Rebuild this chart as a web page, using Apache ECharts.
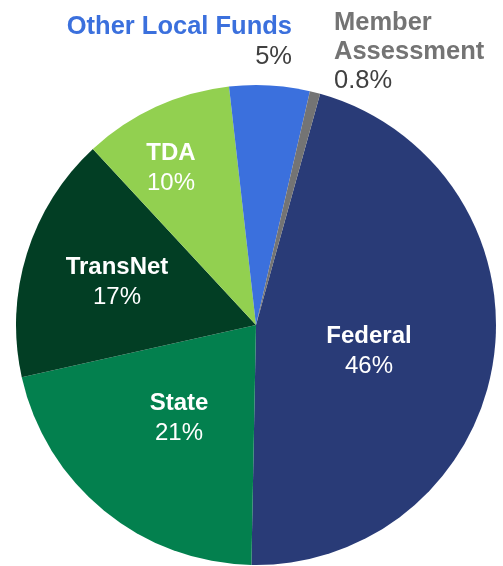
<!DOCTYPE html>
<html>
<head>
<meta charset="utf-8">
<script src="https://cdn.jsdelivr.net/npm/echarts@6/dist/echarts.min.js"></script>
<style>
  html, body { margin: 0; padding: 0; background: #fff; }
  #fundChart { width: 503px; height: 566px; }
</style>
</head>
<body>
<div id="fundChart"></div>
<script>
// funding sources, clockwise from the Federal slice
var sources = ['Federal', 'State', 'TransNet', 'TDA', 'Other Local Funds', 'Member Assessment'];
// slice sizes estimated from the drawn angles (percent)
var shares = [46.0, 21.2, 16.6, 10.1, 5.4, 0.7];
// rounded labels as printed on the chart
var shareLabels = ['46%', '21%', '17%', '10%', '5%', '0.8%'];
var nameLabels = ['Federal', 'State', 'TransNet', 'TDA', 'Other Local Funds', 'Member\nAssessment'];

var sliceColors = ['#293b77', '#03804e', '#023e24', '#92d050', '#3b70dd', '#747474'];

// where each label sits (label centre / anchor)
var labelPos = [
  {x: 369, y: 351, align: 'center'},
  {x: 179, y: 418, align: 'center'},
  {x: 117, y: 282, align: 'center'},
  {x: 171, y: 168, align: 'center'},
  {x: 292, y: 42, align: 'right'},
  {x: 334, y: 52, align: 'left'}
];

var chart = echarts.init(document.getElementById('fundChart'));

var pieData = sources.map(function (s, i) {
  var item = {name: s, value: shares[i], itemStyle: {color: sliceColors[i]}};
  if (i === 4) {
    item.label = {
      formatter: '{n|' + nameLabels[i] + '}\n{p|' + shareLabels[i] + '}',
      rich: {
        n: {fontSize: 25.5, fontWeight: 'bold', color: '#3b70dd', lineHeight: 30, align: 'right'},
        p: {fontSize: 25.5, color: '#404040', lineHeight: 30, align: 'right'}
      }
    };
  } else if (i === 5) {
    item.label = {
      formatter: '{n|Member}\n{n|Assessment}\n{p|' + shareLabels[i] + '}',
      rich: {
        n: {fontSize: 25.5, fontWeight: 'bold', color: '#747474', lineHeight: 29, align: 'left'},
        p: {fontSize: 25.5, color: '#404040', lineHeight: 29, align: 'left'}
      }
    };
  }
  return item;
});

var option = {
  animation: false,
  textStyle: {fontFamily: 'Liberation Sans, Arial, sans-serif'},
  series: [{
    type: 'pie',
    center: [256, 325],
    radius: 240,
    startAngle: 74.5,
    clockwise: true,
    silent: true,
    itemStyle: {borderWidth: 0},
    labelLine: {show: false},
    label: {
      show: true,
      position: 'inside',
      formatter: function (p) {
        return '{n|' + nameLabels[p.dataIndex] + '}\n{p|' + shareLabels[p.dataIndex] + '}';
      },
      rich: {
        n: {fontSize: 24, fontWeight: 'bold', color: '#fff', lineHeight: 30},
        p: {fontSize: 24, color: '#fff', lineHeight: 30}
      }
    },
    labelLayout: function (params) {
      var lp = labelPos[params.dataIndex];
      return {x: lp.x, y: lp.y, align: lp.align, verticalAlign: 'middle', hideOverlap: false};
    },
    data: pieData
  }]
};

chart.setOption(option);
</script>
</body>
</html>
